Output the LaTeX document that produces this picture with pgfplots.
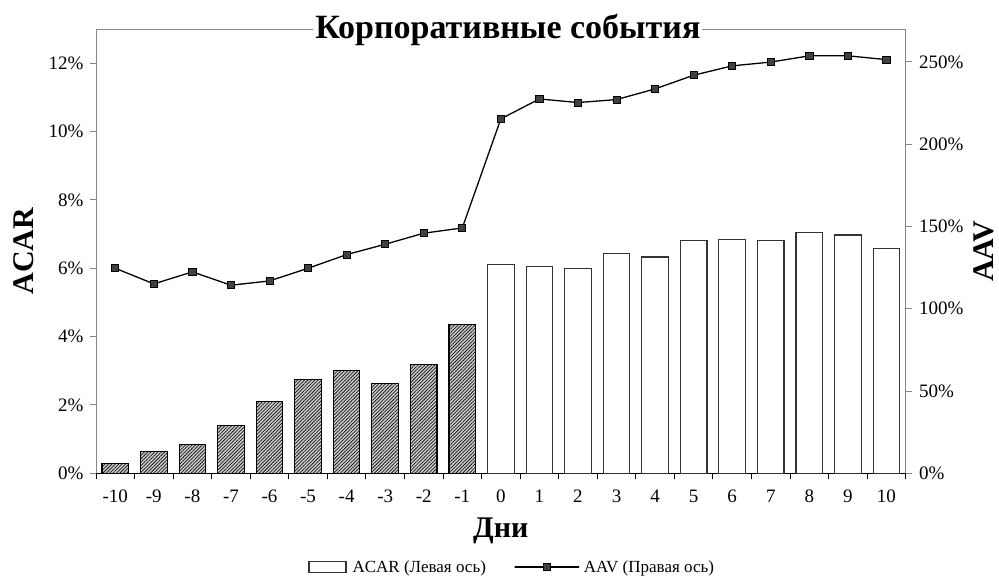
\documentclass[border=0pt]{standalone}
\usepackage{pgfplots}
\pgfplotsset{compat=1.18}
\usepackage{fontspec}
\setmainfont{Liberation Serif}
\usetikzlibrary{patterns.meta}
\definecolor{axgray}{HTML}{868686}
\definecolor{mk}{HTML}{404040}
\definecolor{barborder}{HTML}{333333}
\pgfplotsset{
  lineleg/.style={legend image code/.code={\draw[mark repeat=2,mark phase=2,##1] plot coordinates {(0pt,0pt) (19pt,0pt) (38pt,0pt)};}},
  barleg/.style={legend image code/.code={\draw[draw=barborder, line width=1.2pt, fill=white] (0pt,-5.5pt) rectangle (37pt,5.5pt);}},
}
\begin{document}
\begin{tikzpicture}
\begin{axis}[name=ax, scale only axis, width=809.7pt, height=444.3pt,
  xmin=-10.5, xmax=10.5, ymin=0, ymax=13,
  axis x line*=bottom, axis y line*=left,
  x axis line style={black, line width=0.9pt, -},
  y axis line style={axgray, line width=0.9pt, -},
  tick align=outside,
  xtick={-10,...,10},
  major x tick style={draw=none},
  minor xtick={-10.5,-9.5,...,10.5},
  minor x tick style={black, line width=0.9pt},
  minor tick length=6pt,
  major tick length=6pt,
  ytick={0,2,...,12},
  y tick style={axgray, line width=0.9pt},
  yticklabel={\pgfmathprintnumber{\tick}\%},
  /pgf/number format/assume math mode=true,
  tick label style={font=\fontsize{19}{19}\selectfont},
  xticklabel style={yshift=-7pt},
  yticklabel style={xshift=-3pt},
  ybar, bar width=0.69, bar shift=0pt,
  xlabel={Дни},
  xlabel style={font=\bfseries\fontsize{30}{30}\selectfont, at={(axis description cs:0.5,-0.1434)}, anchor=base},
  ylabel={ACAR},
  every axis y label/.style={at={(axis description cs:-0.0778,0.5)}, rotate=90, anchor=base, inner sep=0pt, font=\bfseries\fontsize{30}{30}\selectfont},
  legend style={draw=none, fill=none, legend columns=2, font=\fontsize{17}{17}\selectfont,
     at={(axis description cs:0.514,-0.211)}, anchor=center, inner sep=0pt},
  clip=false,
]
\addplot[forget plot, draw=black, line width=1.1pt, fill=gray!40,
  postaction={pattern={Lines[angle=45,distance=2.4pt,line width=0.75pt]}, pattern color=black!90}]
  coordinates {(-10,0.29) (-9,0.63) (-8,0.83) (-7,1.40) (-6,2.09) (-5,2.75) (-4,3.02) (-3,2.64) (-2,3.19) (-1,4.36)};
\addplot[draw=barborder, line width=1.2pt, fill=white, barleg]
  coordinates {(0,6.12) (1,6.04) (2,5.99) (3,6.43) (4,6.33) (5,6.80) (6,6.85) (7,6.80) (8,7.04) (9,6.97) (10,6.58)};
\addlegendentry{\hspace*{4pt}ACAR (Левая ось)\hspace*{26pt}}
\addlegendimage{black, line width=1.3pt, mark=square*, mark size=3.6pt, mark options={fill=mk, draw=black, line width=0.8pt}, lineleg}
\addlegendentry{\hspace*{2pt}AAV (Правая ось)}
\end{axis}
\begin{axis}[scale only axis, width=809.7pt, height=444.3pt,
  xmin=-10.5, xmax=10.5, ymin=0, ymax=270,
  axis x line*=top, axis y line*=right,
  x axis line style={axgray, line width=0.9pt, -},
  y axis line style={axgray, line width=0.9pt, -},
  xtick=\empty,
  tick align=outside, major tick length=6pt,
  ytick={0,50,...,250},
  y tick style={axgray, line width=0.9pt},
  yticklabel={\pgfmathprintnumber{\tick}\%},
  /pgf/number format/assume math mode=true,
  tick label style={font=\fontsize{19}{19}\selectfont},
  yticklabel style={xshift=4pt},
  ylabel={AAV},
  every axis y label/.style={at={(axis description cs:1.1085,0.5)}, rotate=90, anchor=base, inner sep=0pt, font=\bfseries\fontsize{30}{30}\selectfont},
  clip=false,
]
\addplot[black, line width=1.3pt, mark=square*, mark size=3.6pt, mark options={fill=mk, draw=black, line width=0.8pt}]
  coordinates {(-10,124.6) (-9,115.1) (-8,122.4) (-7,114.3) (-6,116.9) (-5,124.6) (-4,132.9) (-3,139.2) (-2,145.9) (-1,149.1)
  (0,215.4) (1,227.5) (2,225.3) (3,227.1) (4,233.6) (5,241.9) (6,247.6) (7,249.9) (8,253.7) (9,253.7) (10,251.4)};
\end{axis}
\node[fill=white, inner xsep=2pt, inner ysep=0pt, anchor=base, font=\bfseries\fontsize{34}{34}\selectfont]
  at ([xshift=7pt, yshift=-9.3pt]ax.north) {Корпоративные события};
\path (ax.south west) ++(-96pt,-102.7pt) coordinate (bl);
\path (ax.north east) ++(93.3pt,29pt) coordinate (tr);
\path (bl) rectangle (tr);
\end{tikzpicture}
\end{document}
